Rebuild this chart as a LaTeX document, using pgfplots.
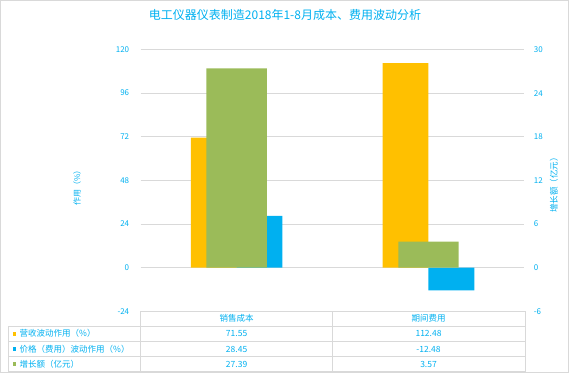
\documentclass[border=0pt]{standalone}
\usepackage{pgfplots}
\pgfplotsset{compat=1.18}
\usepackage{fontspec}
\setmainfont{Noto Sans CJK SC}
\definecolor{txtblue}{HTML}{00B0F0}
\definecolor{cOrange}{HTML}{FFC000}
\definecolor{cBlue}{HTML}{00B0F0}
\definecolor{cGreen}{HTML}{9BBB59}
\definecolor{gridgray}{HTML}{D9D9D9}
\begin{document}
\begin{tikzpicture}
\path[use as bounding box] (0pt,0pt) rectangle (569pt,373pt);
\draw[gridgray, line width=1pt] (0.5pt,0.5pt) rectangle (568.5pt,372.5pt);
% primary axis
\begin{axis}[
  at={(140.7pt,61.7pt)}, anchor=south west,
  scale only axis, width=383.7pt, height=261.8pt,
  xmin=-0.5, xmax=1.5, ymin=-24, ymax=120,
  ytick={-24,0,24,48,72,96,120}, xtick=\empty,
  axis line style={draw=none}, major tick length=0pt,
  ymajorgrids, grid style={gridgray, line width=0.9pt},
  /pgf/number format/assume math mode=true,
  yticklabel style={font=\fontsize{8}{9}\selectfont, text=txtblue, xshift=-8pt},
  clip=false,
]
\addplot[ybar, bar width=45.85pt, bar shift=-22.92pt, fill=cOrange, draw=none] coordinates {(0,71.55) (1,112.48)};
\addplot[ybar, bar width=45.85pt, bar shift=22.92pt, fill=cBlue, draw=none] coordinates {(0,28.45) (1,-12.48)};
\end{axis}
% secondary axis
\begin{axis}[
  at={(140.7pt,61.7pt)}, anchor=south west,
  scale only axis, width=383.7pt, height=261.8pt,
  xmin=-0.5, xmax=1.5, ymin=-6, ymax=30,
  ytick={-6,0,6,12,18,24,30}, xtick=\empty,
  axis y line*=right, axis x line=none,
  axis line style={draw=none}, major tick length=0pt,
  /pgf/number format/assume math mode=true,
  yticklabel style={font=\fontsize{8}{9}\selectfont, text=txtblue, xshift=6pt},
]
\addplot[ybar, bar width=60.3pt, bar shift=0pt, fill=cGreen, draw=none] coordinates {(0,27.39) (1,3.57)};
\end{axis}
\begin{scope}[x=1pt,y=1pt]
% title and axis labels
\node[font=\fontsize{12}{14}\selectfont, text=txtblue] at (285,358.5) {电工仪器仪表制造2018年1-8月成本、费用波动分析};
\node[font=\fontsize{8}{9}\selectfont, text=txtblue, rotate=90] at (77,187) {作用（\%）};
\node[font=\fontsize{8.5}{9}\selectfont, text=txtblue, rotate=90] at (554,190) {增长额（亿元）};
% data table
\draw[gridgray, line width=0.9pt] (140.7,62) -- (525.7,62);
\draw[gridgray, line width=0.9pt] (8.3,47) -- (525.7,47);
\draw[gridgray, line width=0.9pt] (8.3,31.7) -- (525.7,31.7);
\draw[gridgray, line width=0.9pt] (8.3,16.3) -- (525.7,16.3);
\draw[gridgray, line width=0.9pt] (8.3,1.7) -- (525.7,1.7);
\draw[gridgray, line width=0.9pt] (8.3,47) -- (8.3,1.7);
\draw[gridgray, line width=0.9pt] (140.7,62) -- (140.7,1.7);
\draw[gridgray, line width=0.9pt] (332.5,62) -- (332.5,1.7);
\draw[gridgray, line width=0.9pt] (525.7,62) -- (525.7,1.7);
\begin{scope}[font=\fontsize{8.5}{10}\selectfont, text=txtblue]
\node at (236.6,54.5) {销售成本};
\node at (428.5,54.5) {期间费用};
\fill[cOrange] (12.5,37.5) rectangle (16,41);
\fill[cBlue] (12.5,22.2) rectangle (16,25.7);
\fill[cGreen] (12.5,7.2) rectangle (16,10.7);
\node[anchor=west, inner sep=0pt] at (19.5,39.3) {营收波动作用（\%）};
\node[anchor=west, inner sep=0pt] at (19.5,24) {价格（费用）波动作用（\%）};
\node[anchor=west, inner sep=0pt] at (19.5,9) {增长额（亿元）};
\node at (236.6,39.3) {71.55};
\node at (428.5,39.3) {112.48};
\node at (236.6,24) {28.45};
\node at (428.5,24) {-12.48};
\node at (236.6,9) {27.39};
\node at (428.5,9) {3.57};
\end{scope}
\end{scope}
\end{tikzpicture}
\end{document}
